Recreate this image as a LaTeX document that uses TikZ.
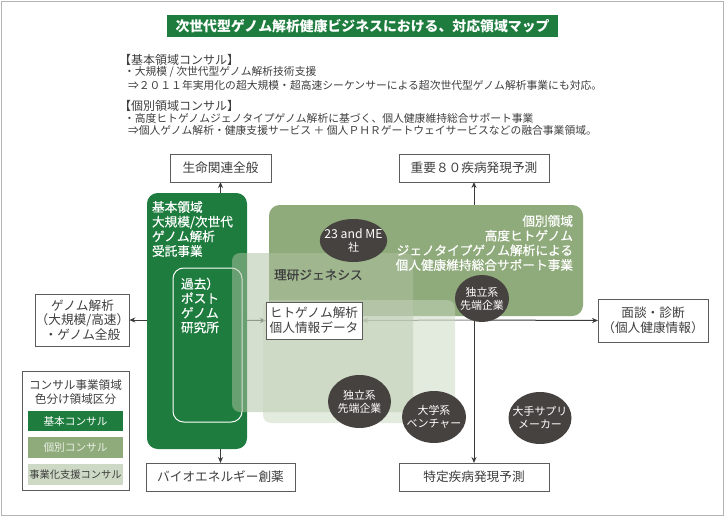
\documentclass[tikz,border=0pt]{standalone}
\usepackage{fontspec}
\setmainfont{Noto Sans CJK JP}
\newfontfamily\medfont{Noto Sans CJK JP}[FakeBold=0.45]
\usetikzlibrary{arrows.meta,shapes.geometric}
\definecolor{basegreen}{HTML}{1E7D3E}
\definecolor{indgreen}{HTML}{8FAB7B}
\definecolor{supgreen}{HTML}{CDD9C4}
\definecolor{overA}{RGB}{175,194,163}
\definecolor{overB}{RGB}{200,213,190}
\definecolor{ellip}{HTML}{46423F}
\definecolor{txt}{HTML}{3E3E3E}
\definecolor{framec}{HTML}{B4B4B4}
\definecolor{boxline}{HTML}{5C5C5C}
\definecolor{axisc}{HTML}{3A3A3A}
\definecolor{axislight}{HTML}{6E6E6E}
\definecolor{axisfaint}{HTML}{8A8F86}
\definecolor{lighttxt}{HTML}{E8EEE4}
\pgfdeclarelayer{bg}
\pgfdeclarelayer{mid}
\pgfsetlayers{bg,mid,main}
\begin{document}
\begin{tikzpicture}[x=0.75pt,y=-0.75pt,
  every node/.style={inner sep=0pt, outer sep=0pt},
  labelbox/.style={rectangle, draw=boxline, line width=0.75pt, fill=white, text=txt, align=center, font=\fontsize{9.5}{11}\selectfont},
  region/.style={rectangle, rounded corners=6pt, draw=none},
  company/.style={ellipse, fill=ellip, text=white, align=center, inner xsep=-4pt, inner ysep=0pt, font=\fontsize{8.2}{9.8}\selectfont},
  axisline/.style={draw=axisc, line width=0.75pt},
  arrowend/.style={-{Stealth[length=4.5pt,width=3.8pt]}},
  twoends/.style={{Stealth[length=4.5pt,width=3.8pt]}-{Stealth[length=4.5pt,width=3.8pt]}},
  note/.style={anchor=west, text=txt, font=\fontsize{8.1}{9}\selectfont},
  notehead/.style={anchor=west, text=txt, font=\fontsize{9}{10}\selectfont},
  swatch/.style={rectangle, minimum width=95*0.75pt, minimum height=20.5*0.75pt, align=center},
]
\useasboundingbox (0,0) rectangle (725,517);
\draw[framec, line width=1.1pt] (1.5,1.5) rectangle (723.5,515.5);

% title
\node[fill=basegreen, text=white, minimum width=391*0.75pt, minimum height=22*0.75pt, font=\bfseries\fontsize{10.4}{12}\selectfont] (title) at (362.5,26) {次世代型ゲノム解析健康ビジネスにおける、対応領域マップ};

% notes
\node[notehead] (h1) at (119,59.5) {【基本領域コンサル】};
\node[note] (n1) at (124,72) {・大規模 / 次世代型ゲノム解析技術支援};
\node[note] (n2) at (128,85) {⇒２０１１年実用化の超大規模・超高速シーケンサーによる超次世代型ゲノム解析事業にも対応。};
\node[notehead] (h2) at (119,105.5) {【個別領域コンサル】};
\node[note] (n3) at (124,118.5) {・高度ヒトゲノムジェノタイプゲノム解析に基づく、個人健康維持総合サポート事業};
\node[note] (n4) at (128,130) {⇒個人ゲノム解析・健康支援サービス ＋ 個人ＰＨＲゲートウェイサービスなどの融合事業領域。};

% outer boxes
\node[labelbox, minimum width=101*0.75pt, minimum height=28*0.75pt] (life) at (220.5,168) {生命関連全般};
\node[labelbox, minimum width=150*0.75pt, minimum height=28*0.75pt] (imp) at (474,168) {重要８０疾病発現予測};
\node[labelbox, minimum width=93*0.75pt, minimum height=52*0.75pt] (genome) at (82.5,320) {ゲノム解析\\（大規模/高速）\\・ゲノム全般};
\node[labelbox, minimum width=110*0.75pt, minimum height=43*0.75pt] (interview) at (653,320.5) {面談・診断\\（個人健康情報）};
\node[labelbox, minimum width=149*0.75pt, minimum height=28*0.75pt] (bio) at (220.5,477) {バイオエネルギー創薬};
\node[labelbox, minimum width=150*0.75pt, minimum height=28*0.75pt] (spec) at (474,477) {特定疾病発現予測};
\node[labelbox, minimum width=96*0.75pt, minimum height=37*0.75pt] (human) at (314,320.5) {ヒトゲノム解析\\個人情報データ};

% axes
\coordinate (cL) at (220.5,320);
\coordinate (cR) at (474,320);
\begin{pgfonlayer}{bg}
\draw[axisline, twoends] (life.south) -- (bio.north);
\draw[axisline, twoends] (imp.south) -- (spec.north);
\draw[axisline, arrowend] (cL) -- (genome.east);
\draw[axisline, arrowend] (cR) -- (interview.west);
\draw[draw=axislight, line width=0.75pt, arrowend] (cL) -- (human.west);
\draw[draw=axisfaint, line width=0.75pt, arrowend] (cR) -- (human.east);
\end{pgfonlayer}

% regions
\begin{pgfonlayer}{mid}
\node[region, fill=indgreen, rounded corners=8pt, minimum width=314*0.75pt, minimum height=111*0.75pt] (indiv) at (426,260.5) {};
\node[region, fill=basegreen, rounded corners=8pt, minimum width=100*0.75pt, minimum height=256*0.75pt] (basic) at (197,321) {};
\node[region, draw=white, line width=0.75pt, rounded corners=8pt, minimum width=69*0.75pt, minimum height=154*0.75pt] (past) at (207.5,345) {};
\node[region, fill=overA, fill opacity=0.52, minimum width=181*0.75pt, minimum height=159*0.75pt] (rikenarea) at (322.5,332.5) {};
\node[region, fill=overB, fill opacity=0.5, minimum width=192*0.75pt, minimum height=123*0.75pt] (suparea) at (359,361.5) {};
\end{pgfonlayer}

% region texts
\node[anchor=west, text=white, align=left, font=\medfont\fontsize{9.5}{11}\selectfont] (basictext) at (152,229) {基本領域\\大規模/次世代\\ゲノム解析\\受託事業};
\node[anchor=west, text=white, align=left, font=\medfont\fontsize{9.5}{10.9}\selectfont] (pasttext) at (181,305.5) {過去）\\ポスト\\ゲノム\\研究所};
\node[anchor=east, text=white, align=right, font=\medfont\fontsize{9.5}{11}\selectfont] (indtext) at (573,243) {個別領域\\高度ヒトゲノム\\ジェノタイプゲノム解析による\\個人健康維持総合サポート事業};
\node[anchor=west, text=txt, font=\medfont\fontsize{9.5}{11}\selectfont] (riken) at (274,275) {理研ジェネシス};

% companies
\node[company, minimum width=63*0.75pt, minimum height=43*0.75pt] (e23) at (353.5,240.5) {{\fontsize{9.2}{10.5}\selectfont 23 and ME}\\社};
\node[company, minimum width=54*0.75pt, minimum height=47*0.75pt] (eind1) at (482,298.5) {独立系\\先端企業};
\node[company, minimum width=63*0.75pt, minimum height=53*0.75pt] (eind2) at (359.5,401.5) {独立系\\先端企業};
\node[company, minimum width=64*0.75pt, minimum height=52*0.75pt] (euni) at (434,417) {大学系\\ベンチャー};
\node[company, minimum width=63*0.75pt, minimum height=52*0.75pt] (esup) at (540,418) {大手サプリ\\メーカー};

% legend
\node[labelbox, minimum width=107*0.75pt, minimum height=119*0.75pt] (legend) at (75.5,431) {};
\node[text=txt, align=center, font=\fontsize{8.7}{10}\selectfont] (legtitle) at (75.5,392) {コンサル事業領域\\色分け領域区分};
\node[swatch, fill=basegreen, text=white, font=\fontsize{8}{9}\selectfont] (sw1) at (75.5,421) {基本コンサル};
\node[swatch, fill=indgreen, text=lighttxt, font=\fontsize{8}{9}\selectfont] (sw2) at (75.5,447.7) {個別コンサル};
\node[swatch, fill=supgreen, text=txt, font=\fontsize{7.7}{9}\selectfont] (sw3) at (75.5,474.5) {事業化支援コンサル};
\end{tikzpicture}
\end{document}
